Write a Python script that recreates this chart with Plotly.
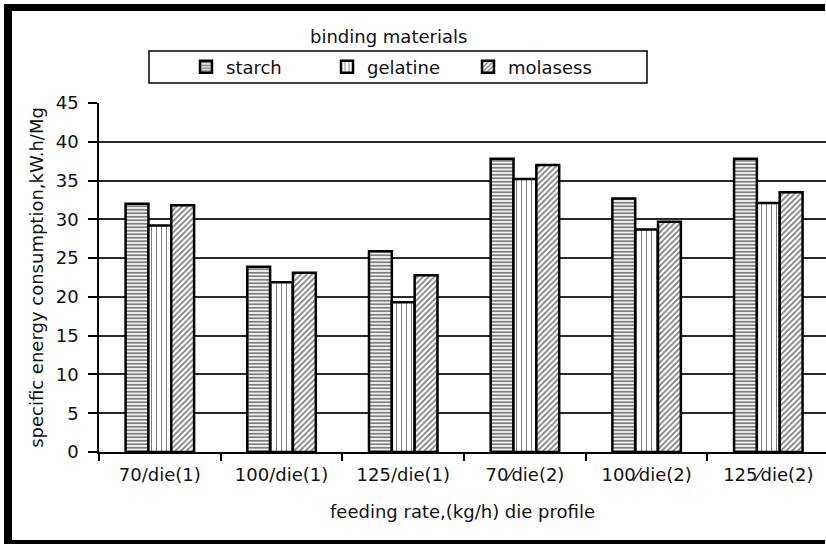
import plotly.graph_objects as go

categories = ["70/die(1)", "100/die(1)", "125/die(1)", "70\u2044die(2)", "100\u2044die(2)", "125\u2044die(2)"]
starch = [32.0, 23.9, 25.9, 37.8, 32.7, 37.8]
gelatine = [29.2, 21.9, 19.3, 35.2, 28.7, 32.1]
molasess = [31.8, 23.1, 22.8, 37.0, 29.7, 33.5]

series = [
    ("starch", starch, dict(shape="-", size=3.5, solidity=0.55)),
    ("gelatine", gelatine, dict(shape="|", size=5, solidity=0.2)),
    ("molasess", molasess, dict(shape="/", size=4, solidity=0.45)),
]

FONT = "DejaVu Sans"
TXT = "#111111"
W, H = 826, 545
L, R, T, B = 99, 0, 103, 93
pw, ph = W - L - R, H - T - B

def px(x):
    return (x - L) / pw

def py(y):
    return (H - B - y) / ph

fig = go.Figure()
for name, vals, pat in series:
    fig.add_trace(go.Bar(
        name=name, x=categories, y=vals,
        marker=dict(color="white",
                    pattern=dict(fgcolor="black", bgcolor="white", fillmode="overlay", **pat),
                    line=dict(color="black", width=2.5)),
    ))

fig.update_layout(
    width=W, height=H, autosize=False,
    margin=dict(l=L, r=R, t=T, b=B, pad=0),
    paper_bgcolor="white", plot_bgcolor="white",
    font=dict(family=FONT, size=18, color=TXT),
    barmode="group", bargap=0.437, bargroupgap=0,
    showlegend=True,
    legend=dict(orientation="h", x=px(186), xanchor="left", y=py(67), yanchor="middle",
                bgcolor="rgba(0,0,0,0)", borderwidth=0, entrywidth=96, entrywidthmode="pixels",
                font=dict(family=FONT, size=18, color=TXT), itemclick=False),
    xaxis=dict(range=[-0.5, 5.474], showline=True, linecolor="black", linewidth=1.5,
               ticks="outside", tickson="boundaries", ticklen=7, tickcolor="black", tickwidth=1.5,
               ticklabelstandoff=6,
               showgrid=False, tickfont=dict(family=FONT, size=18, color=TXT),
               title=dict(text="feeding rate,(kg/h) die profile", standoff=21,
                          font=dict(family=FONT, size=18, color=TXT))),
    yaxis=dict(range=[0, 45], dtick=5, showline=True, linecolor="black", linewidth=1.5,
               ticks="outside", ticklen=9, tickcolor="black", tickwidth=1.5,
               ticklabelstandoff=6,
               showgrid=True, gridcolor="#2a2a2a", gridwidth=1.5, zeroline=False,
               tickfont=dict(family=FONT, size=18, color=TXT),
               title=dict(text="specific energy consumption,kW.h/Mg", standoff=7,
                          font=dict(family=FONT, size=18, color=TXT))),
    annotations=[dict(text="binding materials", xref="paper", yref="paper",
                      x=px(388), y=py(37), xanchor="center", yanchor="middle",
                      showarrow=False, font=dict(family=FONT, size=18, color=TXT))],
    shapes=[
        dict(type="rect", xref="paper", yref="paper", x0=px(149), x1=px(647), y0=py(83), y1=py(51),
             line=dict(color="black", width=1.5), fillcolor="rgba(0,0,0,0)", layer="above"),
        dict(type="line", xref="paper", yref="paper", x0=px(8), x1=px(8), y0=py(543), y1=py(4),
             line=dict(color="black", width=8), layer="above"),
        dict(type="line", xref="paper", yref="paper", x0=px(4), x1=px(825), y0=py(7.5), y1=py(7.5),
             line=dict(color="black", width=7), layer="above"),
        dict(type="line", xref="paper", yref="paper", x0=px(4), x1=px(825), y0=py(542), y1=py(542),
             line=dict(color="black", width=4), layer="above"),
    ],
)

fig.write_html("out.html")
